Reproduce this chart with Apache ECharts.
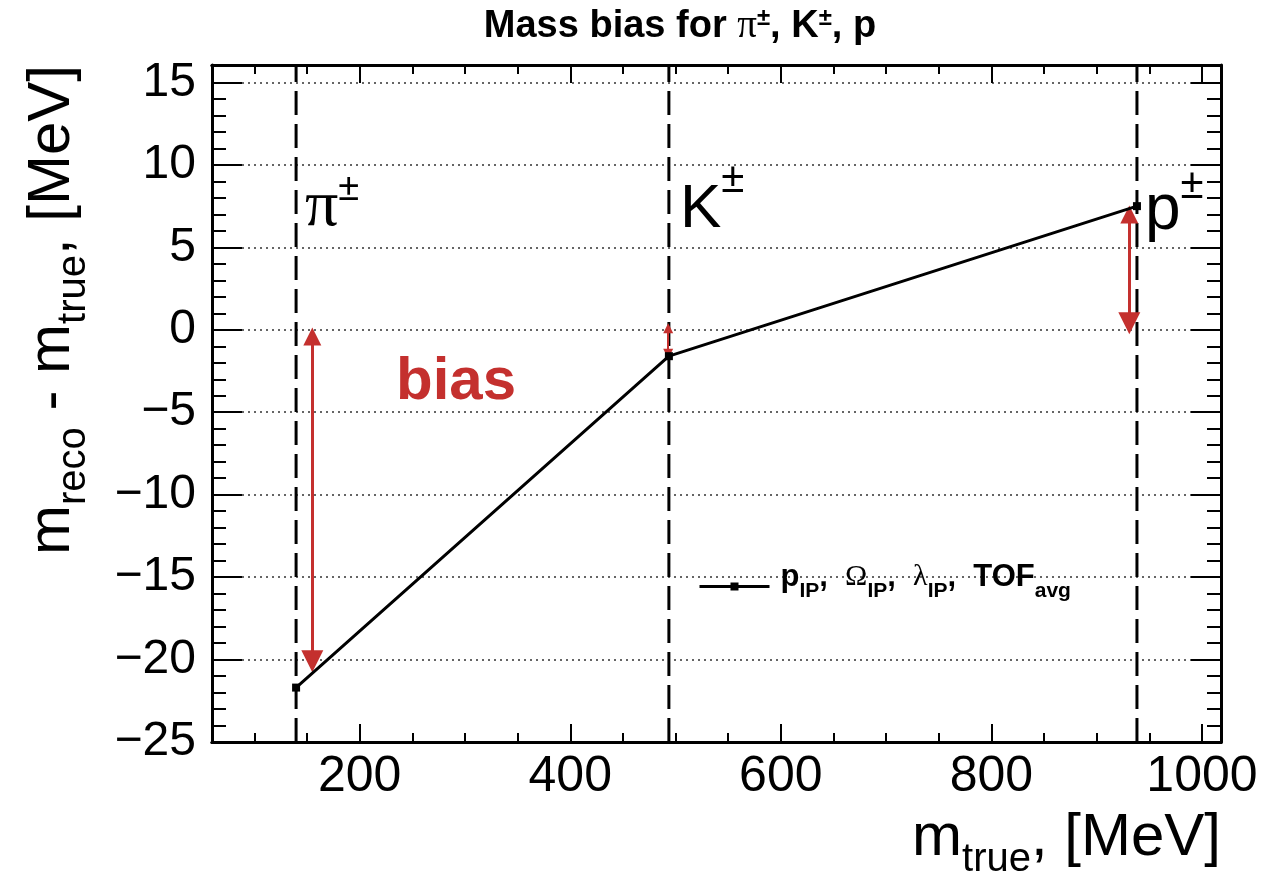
<!DOCTYPE html>
<html>
<head>
<meta charset="utf-8">
<script src="https://cdn.jsdelivr.net/npm/echarts@6/dist/echarts.min.js"></script>
<style>
  html, body { margin: 0; padding: 0; background: #fff; }
  #chart { width: 1261px; height: 877px; }
</style>
</head>
<body>
<div id="chart"></div>
<script>
// particle masses (MeV) and reconstructed mass bias (MeV)
const particleMass = [139.57, 493.68, 938.27]
const massBias = [-21.7, -1.6, 7.5]

// axis ranges and ticks
const xRange = [59.7, 1018.1]
const yRange = [-25, 16.06]
const xMajorTicks = [200, 400, 600, 800, 1000]
const xMinorTicks = [100, 150, 250, 300, 350, 450, 500, 550, 650, 700, 750, 850, 900, 950, 1000]

// red "bias" arrows: x position, upper end, lower end
const arrowX = [155, 493, 931]
const arrowTop = [-0.4, 0.1, 7.0]
const arrowBottom = [-20.1, -1.45, 0.4]

const SANS = "'Liberation Sans', Arial, Helvetica, sans-serif"
const SERIF = "'Liberation Serif', 'Times New Roman', serif"
const RED = '#c4302e'

const chart = echarts.init(document.getElementById('chart'), null, { renderer: 'canvas' })

function xAxisCfg(position, ticks, len, labels) {
  return {
    type: 'value',
    position: position,
    min: xRange[0],
    max: xRange[1],
    axisLine: { show: true, onZero: false, lineStyle: { color: '#000', width: 3 } },
    axisTick: { show: true, inside: true, length: len, customValues: ticks, lineStyle: { color: '#000', width: 2 } },
    axisLabel: {
      show: labels,
      customValues: xMajorTicks,
      margin: 10,
      fontSize: 50,
      fontFamily: SANS,
      color: '#000',
      formatter: v => String(v)
    },
    splitLine: { show: false }
  }
}

function yAxisCfg(position, labels) {
  return {
    type: 'value',
    position: position,
    min: yRange[0],
    max: yRange[1],
    interval: 5,
    axisLine: { show: true, onZero: false, lineStyle: { color: '#000', width: 3 } },
    axisTick: { show: true, inside: true, length: 30, lineStyle: { color: '#000', width: 2 } },
    minorTick: { show: true, splitNumber: 5, length: 14, lineStyle: { color: '#000', width: 2 } },
    axisLabel: {
      show: labels,
      showMaxLabel: false,
      margin: 16,
      fontSize: 48,
      fontFamily: SANS,
      color: '#000',
      formatter: v => String(v).replace('-', '\u2212')
    },
    splitLine: {
      show: labels,
      showMaxLine: false,
      lineStyle: { color: '#333', width: 1.5, type: [2, 4] }
    },
    minorSplitLine: { show: false }
  }
}

const dashedLines = particleMass.map(m => ({
  type: 'line',
  silent: true,
  symbol: 'none',
  xAxisIndex: 0,
  yAxisIndex: 0,
  lineStyle: { color: '#000', width: 3, type: [24, 9] },
  data: [[m, yRange[0]], [m, yRange[1]]],
  z: 1
}))

const arrowData = arrowX.map((x, i) => ({ coords: [[x, arrowTop[i]], [x, arrowBottom[i]]] }))

const option = {
  animation: false,
  backgroundColor: '#fff',
  grid: { left: 212, right: 40, top: 65, bottom: 135, containLabel: false, outerBoundsMode: 'none' },
  xAxis: [
    xAxisCfg('bottom', xMajorTicks, 18, true),
    xAxisCfg('bottom', xMinorTicks, 9, false),
    xAxisCfg('top', xMajorTicks, 18, false),
    xAxisCfg('top', xMinorTicks, 9, false)
  ],
  yAxis: [yAxisCfg('left', true), yAxisCfg('right', false)],
  legend: {
    left: 693,
    top: 557,
    itemWidth: 70,
    itemHeight: 10,
    itemGap: 10,
    data: ['fit'],
    lineStyle: { width: 3 },
    formatter: () => '{b|p}{s|IP}{b|,  }{g|\u03a9}{s|IP}{b|,  }{g|\u03bb}{s|IP}{b|,  TOF}{s|avg}',
    textStyle: {
      color: '#000',
      padding: [0, 0, 0, 6],
      rich: {
        b: { fontSize: 31, fontWeight: 'bold', fontFamily: SANS, verticalAlign: 'bottom', lineHeight: 31, padding: [0, 0, 9, 0] },
        g: { fontSize: 30, fontFamily: SERIF, verticalAlign: 'bottom', lineHeight: 30, padding: [0, 0, 10, 0] },
        s: { fontSize: 21, fontWeight: 'bold', fontFamily: SANS, verticalAlign: 'bottom', lineHeight: 21 }
      }
    }
  },
  series: [
    ...dashedLines,
    {
      type: 'lines',
      coordinateSystem: 'cartesian2d',
      silent: true,
      symbol: ['triangle', 'triangle'],
      symbolSize: [18, 22],
      lineStyle: { color: RED, width: 3, opacity: 1 },
      data: [arrowData[0], arrowData[2]],
      z: 3
    },
    {
      type: 'lines',
      coordinateSystem: 'cartesian2d',
      silent: true,
      symbol: ['triangle', 'triangle'],
      symbolSize: [10, 10],
      lineStyle: { color: RED, width: 2, opacity: 1 },
      data: [arrowData[1]],
      z: 3
    },
    {
      name: 'fit',
      type: 'line',
      xAxisIndex: 0,
      yAxisIndex: 0,
      data: particleMass.map((m, i) => [m, massBias[i]]),
      symbol: 'rect',
      symbolSize: 8,
      showSymbol: true,
      lineStyle: { color: '#000', width: 3 },
      itemStyle: { color: '#000' },
      z: 4
    }
  ],
  graphic: [
    {
      type: 'text', x: 680, y: 46,
      style: {
        text: '{b|Mass bias for }{pi|\u03c0}{sup|\u00b1}{b|, K}{sup|\u00b1}{b|, p}',
        align: 'center', textAlign: 'center', verticalAlign: 'bottom', textVerticalAlign: 'bottom',
        rich: {
          b: { fontSize: 38, fontWeight: 'bold', fontFamily: SANS, fill: '#000', verticalAlign: 'bottom', lineHeight: 38 },
          pi: { fontSize: 39, fontFamily: SERIF, fill: '#000', verticalAlign: 'bottom', lineHeight: 39 },
          sup: { fontSize: 24, fontWeight: 'bold', fontFamily: SANS, fill: '#000', verticalAlign: 'bottom', lineHeight: 24, padding: [0, 0, 16, 0] }
        }
      }
    },
    {
      type: 'text', x: 64, y: 65, rotation: Math.PI / 2,
      style: {
        text: '{m|m}{s|reco}{m| - m}{s|true}{m|, [MeV]}',
        align: 'right', textAlign: 'right', verticalAlign: 'middle', textVerticalAlign: 'middle',
        rich: {
          m: { fontSize: 60, fontFamily: SANS, fill: '#000', verticalAlign: 'bottom', lineHeight: 60, padding: [0, 0, 12, 0] },
          s: { fontSize: 40, fontFamily: SANS, fill: '#000', verticalAlign: 'bottom', lineHeight: 40 }
        }
      }
    },
    {
      type: 'text', x: 1221, y: 850,
      style: {
        text: '{m|m}{s|true}{m|, [MeV]}',
        align: 'right', textAlign: 'right', verticalAlign: 'middle', textVerticalAlign: 'middle',
        rich: {
          m: { fontSize: 60, fontFamily: SANS, fill: '#000', verticalAlign: 'bottom', lineHeight: 60, padding: [0, 0, 12, 0] },
          s: { fontSize: 40, fontFamily: SANS, fill: '#000', verticalAlign: 'bottom', lineHeight: 40 }
        }
      }
    },
    {
      type: 'text', x: 305, y: 241,
      style: {
        text: '{p|\u03c0}{sup|\u00b1}',
        align: 'left', textAlign: 'left', verticalAlign: 'bottom', textVerticalAlign: 'bottom',
        rich: {
          p: { fontSize: 66, fontFamily: SERIF, fill: '#000', verticalAlign: 'bottom', lineHeight: 66 },
          sup: { fontSize: 38, fontFamily: SANS, fill: '#000', verticalAlign: 'bottom', lineHeight: 38, padding: [0, 0, 32, 0] }
        }
      }
    },
    {
      type: 'text', x: 680, y: 241,
      style: {
        text: '{p|K}{sup|\u00b1}',
        align: 'left', textAlign: 'left', verticalAlign: 'bottom', textVerticalAlign: 'bottom',
        rich: {
          p: { fontSize: 62, fontFamily: SANS, fill: '#000', verticalAlign: 'bottom', lineHeight: 62 },
          sup: { fontSize: 42, fontFamily: SANS, fill: '#000', verticalAlign: 'bottom', lineHeight: 42, padding: [0, 0, 40, 0] }
        }
      }
    },
    {
      type: 'text', x: 1145, y: 243,
      style: {
        text: '{p|p}{sup|\u00b1}',
        align: 'left', textAlign: 'left', verticalAlign: 'bottom', textVerticalAlign: 'bottom',
        rich: {
          p: { fontSize: 64, fontFamily: SANS, fill: '#000', verticalAlign: 'bottom', lineHeight: 64 },
          sup: { fontSize: 42, fontFamily: SANS, fill: '#000', verticalAlign: 'bottom', lineHeight: 42, padding: [0, 0, 36, 0] }
        }
      }
    },
    {
      type: 'text', x: 396, y: 412,
      style: {
        text: 'bias',
        fontSize: 60, fontWeight: 'bold', fontFamily: SANS, fill: RED,
        align: 'left', textAlign: 'left', verticalAlign: 'bottom', textVerticalAlign: 'bottom'
      }
    }
  ]
}

chart.setOption(option)
</script>
</body>
</html>
